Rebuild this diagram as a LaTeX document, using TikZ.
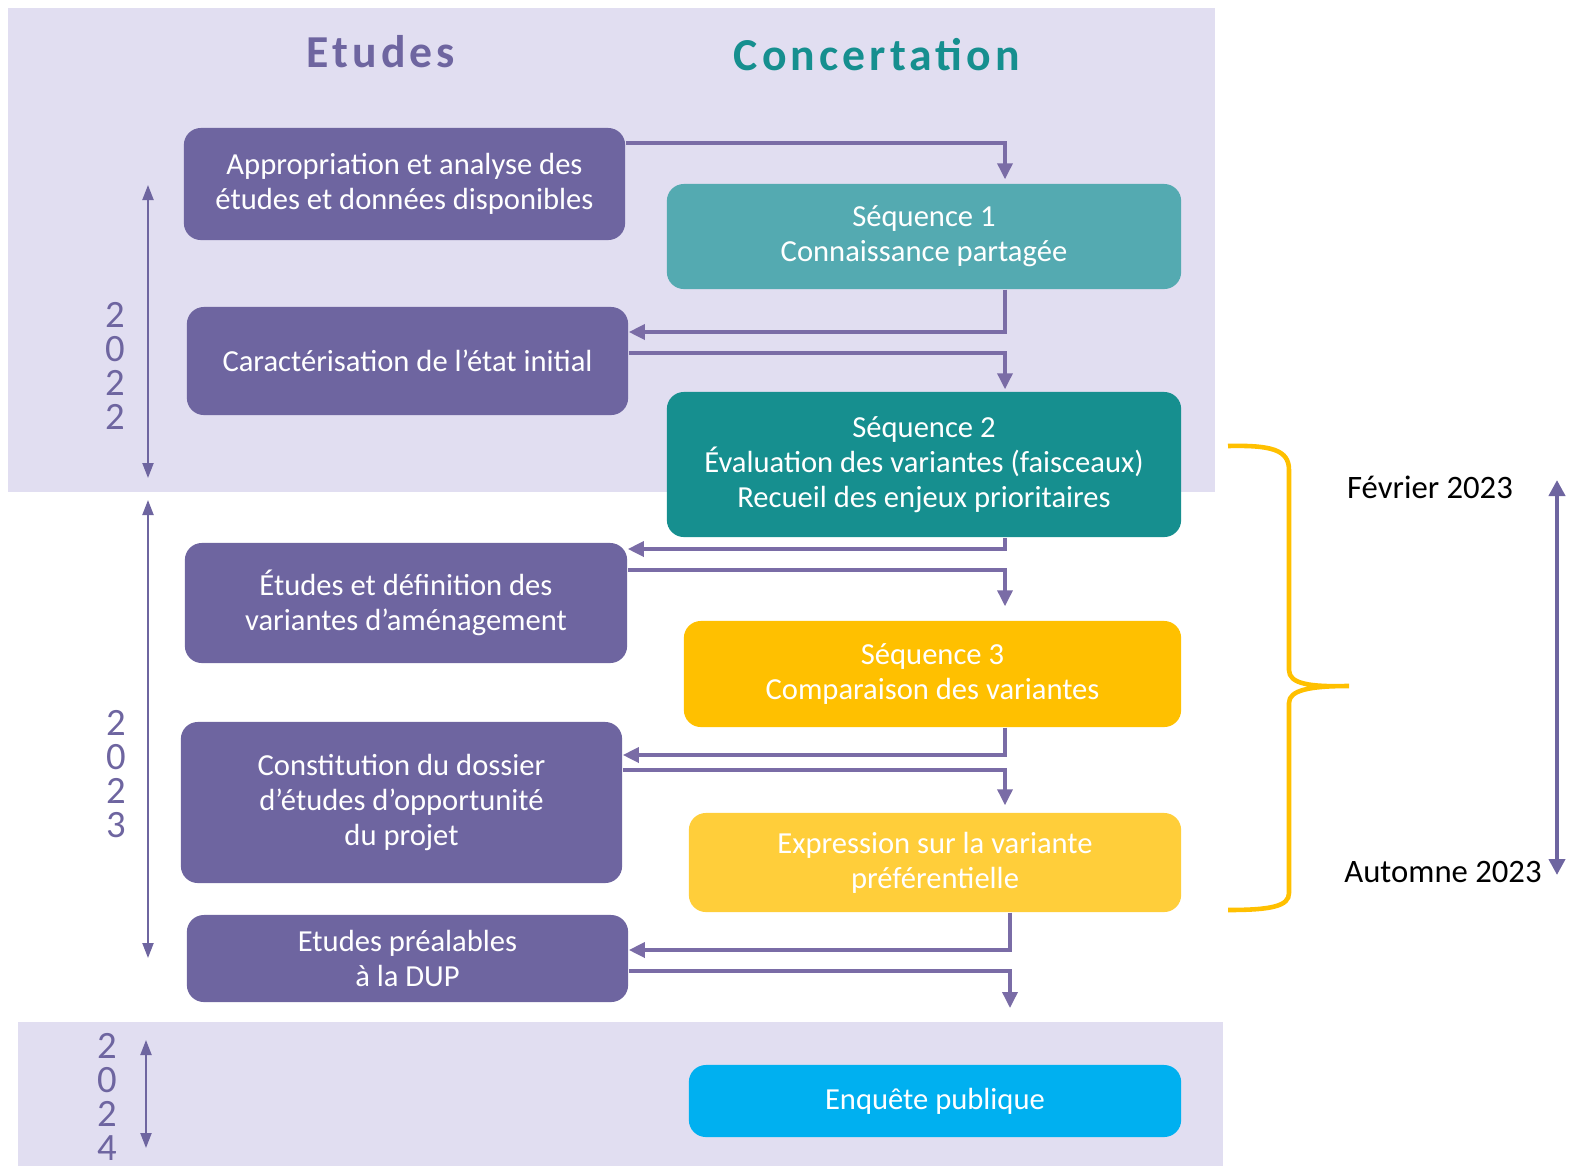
\documentclass[tikz,border=0pt]{standalone}
\usepackage{fontspec}
\setmainfont{Carlito}
\usetikzlibrary{arrows.meta}

\definecolor{bandLav}{HTML}{E1DEF1}
\definecolor{etuPurple}{HTML}{6E65A0}
\definecolor{flowPurple}{HTML}{7A6CA6}
\definecolor{seqTealL}{HTML}{54AAB1}
\definecolor{seqTeal}{HTML}{168F8F}
\definecolor{seqGold}{HTML}{FFC000}
\definecolor{seqGoldL}{HTML}{FFCE3A}
\definecolor{seqBlue}{HTML}{00B0F0}

\tikzstyle{etuNode} = [rectangle, rounded corners=0.17cm, fill=etuPurple, text=white, align=center, inner sep=0pt, font=\fontsize{8.7}{10}\selectfont]
\tikzstyle{seqNodeA} = [etuNode, fill=seqTealL]
\tikzstyle{seqNodeB} = [etuNode, fill=seqTeal]
\tikzstyle{seqNodeC} = [etuNode, fill=seqGold]
\tikzstyle{seqNodeD} = [etuNode, fill=seqGoldL]
\tikzstyle{seqNodeE} = [etuNode, fill=seqBlue]
\tikzstyle{yearNode} = [align=center, text=etuPurple, inner sep=0pt, font=\fontsize{11}{9.7}\selectfont]
\tikzstyle{dateNode} = [inner sep=0pt, text=black, font=\fontsize{9.3}{10}\selectfont]
\tikzstyle{titleNode} = [font=\fontsize{13}{13}\selectfont\bfseries\addfontfeature{LetterSpace=9}]
\tikzstyle{arrowP} = [line width=1pt, draw=flowPurple, -{Triangle[length=0.16cm, width=0.15cm]}]
\tikzstyle{arrowY} = [line width=0.6pt, draw=etuPurple, {Triangle[length=0.15cm, width=0.11cm]}-{Triangle[length=0.15cm, width=0.11cm]}]
\tikzstyle{arrowT} = [line width=1.4pt, draw=etuPurple, {Triangle[length=0.16cm, width=0.16cm]}-{Triangle[length=0.16cm, width=0.16cm]}]

\begin{document}
\begin{tikzpicture}[x=0.01cm, y=-0.01cm]
        \useasboundingbox (0,0) rectangle (1575,1172);
        % background bands
        \fill [bandLav] (8,8) rectangle (1215,492);
        \fill [bandLav] (18,1022) rectangle (1223,1166);

        % column titles
        \node (etuTitle) [titleNode, text=etuPurple] at (381,52) {Etudes};
        \node (conTitle) [titleNode, text=seqTeal] at (877,55) {Concertation};

        % etudes
        \node (appro) [etuNode, minimum width=4.41cm, minimum height=1.12cm] at (404.5,184) {Appropriation et analyse des\\études et données disponibles};
        \node (caract) [etuNode, minimum width=4.41cm, minimum height=1.08cm] at (407.5,361) {Caractérisation de l’état initial};
        \node (varia) [etuNode, minimum width=4.42cm, minimum height=1.20cm] at (406,603) {Études et définition des\\variantes d’aménagement};
        \node (dossier) [etuNode, minimum width=4.41cm, minimum height=1.61cm] at (401.5,802.5) {Constitution du dossier\\d’études d’opportunité\\du projet};
        \node (dup) [etuNode, minimum width=4.41cm, minimum height=0.87cm] at (407.5,958.5) {Etudes préalables\\à la DUP};

        % concertation
        \node (seqA) [seqNodeA, minimum width=5.14cm, minimum height=1.05cm] at (924,236.5) {Séquence 1\\Connaissance partagée};
        \node (seqB) [seqNodeB, minimum width=5.14cm, minimum height=1.45cm] at (924,464.5) {Séquence 2\\Évaluation des variantes (faisceaux)\\Recueil des enjeux prioritaires};
        \node (seqC) [seqNodeC, minimum width=4.97cm, minimum height=1.06cm] at (932.5,674) {Séquence 3\\Comparaison des variantes};
        \node (seqD) [seqNodeD, minimum width=4.92cm, minimum height=0.99cm] at (935,862.5) {Expression sur la variante\\préférentielle};
        \node (enq) [seqNodeE, minimum width=4.92cm, minimum height=0.72cm] at (935,1101) {Enquête publique};

        % flows
        \coordinate (lane) at (1005,0);
        \coordinate (laneB) at (1010,0);
        \coordinate (dupEnd) at (1010,1008);
        \draw [arrowP, shorten >=0.04cm] (appro.east |- 0,143) -| (seqA.north -| lane);
        \draw [arrowP] (seqA.south -| lane) |- (caract.east |- 0,332);
        \draw [arrowP, shorten >=0.02cm] (caract.east |- 0,353) -| (seqB.north -| lane);
        \draw [arrowP] (seqB.south -| lane) |- (varia.east |- 0,549);
        \draw [arrowP, shorten >=0.14cm] (varia.east |- 0,570) -| (seqC.north -| lane);
        \draw [arrowP] (seqC.south -| lane) |- (dossier.east |- 0,755);
        \draw [arrowP, shorten >=0.07cm] (dossier.east |- 0,770) -| (seqD.north -| lane);
        \draw [arrowP] (seqD.south -| laneB) |- (dup.east |- 0,950);
        \draw [arrowP] (dup.east |- 0,971) -| (dupEnd);

        % years
        \node (y22) [yearNode] at (115,366) {2\\0\\2\\2};
        \node (y23) [yearNode] at (116,774) {2\\0\\2\\3};
        \node (y24) [yearNode] at (107,1097) {2\\0\\2\\4};
        \coordinate (y22top) at (148,185);
        \coordinate (y22bot) at (148,478);
        \coordinate (y23top) at (148,500);
        \coordinate (y23bot) at (148,958);
        \coordinate (y24top) at (146,1040);
        \coordinate (y24bot) at (146,1148);
        \draw [arrowY] (y22top) -- (y22bot);
        \draw [arrowY] (y23top) -- (y23bot);
        \draw [arrowY] (y24top) -- (y24bot);

        % brace and dates
        \draw [seqGold, line width=1.3pt] (1228,446) .. controls (1272,445) and (1289,450) .. (1289,470) -- (1289,670) .. controls (1289,684) and (1310,687) .. (1349,686) .. controls (1310,686) and (1289,690) .. (1289,703) -- (1289,893) .. controls (1289,906) and (1272,910) .. (1228,910);
        \node (feb) [dateNode] at (1430,487) {Février 2023};
        \node (aut) [dateNode] at (1443,872) {Automne 2023};
        \coordinate (tlTop) at (1557,480);
        \coordinate (tlBot) at (1557,875);
        \draw [arrowT] (tlTop) -- (tlBot);

    \end{tikzpicture}
\end{document}
